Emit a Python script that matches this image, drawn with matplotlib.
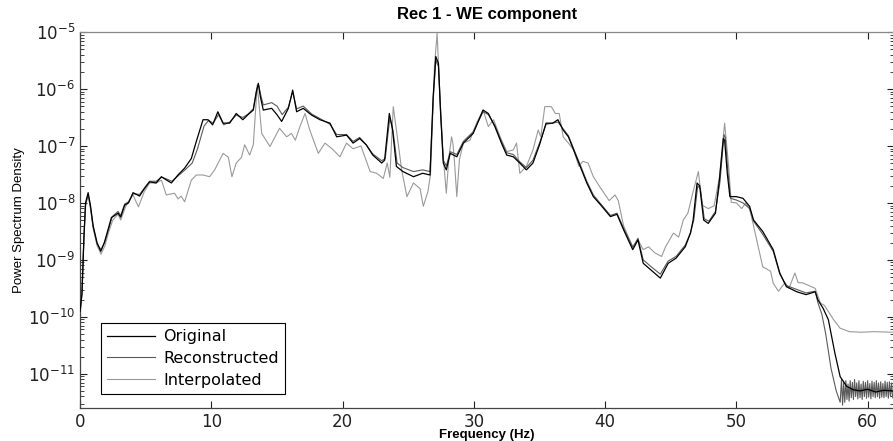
import numpy as np
import matplotlib
matplotlib.use('Agg')
import matplotlib.pyplot as plt
from matplotlib.ticker import FixedLocator, NullFormatter

# Original spectrum: frequency (Hz) and log10 of the PSD
orig_freq = [0.0, 0.15, 0.3, 0.42, 0.62, 0.8, 1.0, 1.3, 1.58, 1.85, 2.13, 2.39, 2.9, 3.1,
             3.4, 3.7, 4.04, 4.54, 4.9, 5.3, 5.8, 6.2, 6.6, 6.96, 7.46, 7.97, 8.48, 8.86,
             9.37, 9.75, 10.1, 10.5, 10.9, 11.4, 11.9, 12.4, 12.8, 13.2, 13.43, 13.58, 13.75,
             13.96, 14.6, 15.0, 15.36, 15.87, 16.2, 16.5, 17.0, 17.65, 18.28, 19.04, 19.55,
             20.3, 20.8, 21.3, 21.8, 22.3, 22.98, 23.2, 23.56, 23.8, 24.1, 24.6, 25.4, 26.1,
             26.66, 26.9, 27.1, 27.3, 27.47, 27.67, 27.9, 28.2, 28.7, 29.2, 29.95, 30.7, 31.1,
             31.6, 32.1, 32.5, 33.0, 33.5, 34.0, 34.5, 35.0, 35.5, 36.0, 36.4, 36.8, 37.2,
             37.6, 38.1, 38.6, 39.1, 39.6, 40.4, 40.9, 41.4, 42.1, 42.5, 42.9, 43.5, 44.2,
             44.8, 45.4, 46.1, 46.5, 46.7, 47.0, 47.2, 47.5, 47.85, 48.4, 48.7, 49.0, 49.1,
             49.3, 49.5, 50.0, 50.5, 51.0, 51.3, 52.0, 52.8, 53.3, 53.8, 54.6, 55.3, 56.0,
             56.2, 56.6, 57.0, 57.5, 57.9, 58.4, 58.9, 59.4, 60.0, 60.6, 61.2, 61.9]
orig_log = [-9.9, -9.6, -8.6, -8.0, -7.82, -8.05, -8.4, -8.7, -8.85, -8.7, -8.47, -8.26, -8.18, -8.25,
            -8.04, -8.0, -7.82, -7.88, -7.75, -7.63, -7.65, -7.54, -7.6, -7.65, -7.51, -7.39, -7.22, -6.92,
            -6.54, -6.54, -6.63, -6.40, -6.60, -6.60, -6.43, -6.54, -6.45, -6.37, -6.05, -5.90, -6.15,
            -6.37, -6.34, -6.45, -6.57, -6.34, -6.02, -6.40, -6.34, -6.46, -6.54, -6.60, -6.84,
            -6.81, -6.95, -6.87, -6.98, -7.16, -7.30, -7.25, -6.43, -6.7, -7.36, -7.45, -7.54, -7.48,
            -7.51, -6.13, -5.43, -5.55, -6.43, -7.30, -7.42, -7.13, -7.19, -6.95, -6.78, -6.37, -6.43,
            -6.66, -6.95, -7.16, -7.19, -7.30, -7.42, -7.30, -6.98, -6.60, -6.60, -6.54, -6.72, -6.84,
            -7.07, -7.36, -7.65, -7.89, -8.02, -8.24, -8.2, -8.47, -8.82, -8.65, -9.06, -9.18, -9.32,
            -9.06, -8.97, -8.77, -8.53, -8.3, -7.65, -7.7, -8.30, -8.36, -8.18, -7.60, -6.87, -6.9,
            -7.48, -7.89, -7.89, -7.92, -8.06, -8.30, -8.5, -8.82, -9.23, -9.47, -9.56, -9.61, -9.56,
            -9.70, -9.85, -10.05, -10.64, -11.05, -11.22, -11.28, -11.3, -11.27, -11.32, -11.29, -11.3]

# Reconstructed spectrum
rec_freq = [0.0, 0.15, 0.3, 0.42, 0.62, 0.8, 1.0, 1.3, 1.6, 1.9, 2.2, 2.45, 2.9, 3.1,
            3.4, 3.7, 4.04, 4.54, 4.9, 5.3, 5.8, 6.2, 6.6, 7.0, 7.5, 8.0, 8.55, 8.95,
            9.45, 9.8, 10.15, 10.55, 10.95, 11.4, 11.9, 12.4, 12.8, 13.2, 13.45, 13.6, 13.78,
            13.96, 14.6, 15.0, 15.4, 15.87, 16.2, 16.5, 17.0, 17.65, 18.28, 19.04, 19.55,
            20.3, 20.8, 21.3, 21.8, 22.3, 22.98, 23.25, 23.6, 23.85, 24.15, 24.6, 25.4, 26.1,
            26.66, 26.9, 27.1, 27.3, 27.47, 27.67, 27.9, 28.2, 28.7, 29.2, 29.95, 30.7, 31.1,
            31.6, 32.1, 32.5, 33.0, 33.5, 34.0, 34.5, 35.0, 35.5, 36.0, 36.4, 36.8, 37.2,
            37.6, 38.1, 38.6, 39.1, 39.6, 40.4, 40.9, 41.4, 42.1, 42.5, 42.9, 43.5, 44.2,
            44.8, 45.4, 46.1, 46.5, 46.75, 47.05, 47.25, 47.55, 47.9, 48.4, 48.75, 49.05, 49.15,
            49.35, 49.55, 50.0, 50.5, 51.0, 51.3, 52.0, 52.8, 53.3, 53.8, 54.6, 55.3, 56.0,
            56.2, 56.5, 56.8, 57.2, 57.6, 57.9]
rec_log = [-9.95, -9.6, -8.6, -8.05, -7.85, -8.08, -8.42, -8.72, -8.82, -8.68, -8.45, -8.24, -8.15, -8.22,
           -8.02, -7.98, -7.84, -7.85, -7.74, -7.62, -7.62, -7.55, -7.58, -7.62, -7.52, -7.42, -7.3, -7.05,
           -6.65, -6.55, -6.6, -6.45, -6.63, -6.58, -6.46, -6.5, -6.44, -6.35, -6.02, -5.92, -6.12,
           -6.28, -6.24, -6.3, -6.45, -6.32, -6.05, -6.35, -6.3, -6.44, -6.52, -6.62, -6.8,
           -6.8, -6.92, -6.85, -6.98, -7.14, -7.26, -7.22, -6.5, -6.75, -7.3, -7.38, -7.45, -7.42,
           -7.45, -6.2, -5.5, -5.6, -6.45, -7.25, -7.35, -7.1, -7.15, -6.92, -6.75, -6.4, -6.45,
           -6.64, -6.92, -7.12, -7.15, -7.28, -7.38, -7.25, -6.95, -6.62, -6.6, -6.58, -6.7, -6.82,
           -7.05, -7.33, -7.62, -7.86, -8.0, -8.22, -8.18, -8.44, -8.78, -8.62, -9.0, -9.12, -9.25,
           -9.02, -8.94, -8.74, -8.52, -8.3, -7.7, -7.75, -8.28, -8.32, -8.15, -7.62, -6.8, -6.85,
           -7.45, -7.92, -7.95, -8.0, -8.1, -8.32, -8.55, -8.85, -9.25, -9.45, -9.52, -9.58, -9.55,
           -9.75, -9.95, -10.3, -10.9, -11.3, -11.5]

# Reconstructed high-frequency tail (58 to 62 Hz), oscillating
rec_tail_log = [-11.1, -11.55, -11.15, -11.5, -11.12, -11.45, -11.18, -11.48, -11.12, -11.42,
                -11.15, -11.45, -11.1, -11.4, -11.16, -11.44, -11.12, -11.42, -11.18, -11.45,
                -11.13, -11.4, -11.15, -11.43, -11.12, -11.41, -11.17, -11.44, -11.13, -11.4,
                -11.15, -11.42, -11.12, -11.4, -11.16, -11.43, -11.14, -11.41, -11.17, -11.42,
                -11.13, -11.4, -11.15, -11.43, -11.14, -11.4, -11.16, -11.42]

# Interpolated spectrum
interp_freq = [0.0, 0.15, 0.3, 0.45, 0.62, 0.8, 1.0, 1.3, 1.6, 1.9, 2.2, 2.5, 2.9, 3.1, 3.5,
               4.04, 4.45, 4.9, 5.3, 5.8, 6.2, 6.57, 7.2, 7.47, 7.7, 7.97, 8.48, 8.86, 9.37,
               9.87, 10.26, 10.9, 11.3, 11.57, 11.9, 12.3, 12.54, 12.92, 13.2, 13.5, 13.84,
               14.47, 15.2, 15.74, 16.1, 16.4, 16.75, 17.14, 17.5, 18.15, 18.66, 19.2, 19.8,
               20.3, 20.8, 21.4, 22.1, 22.6, 23.1, 23.4, 23.6, 23.86, 24.1, 24.5, 24.9, 25.4,
               25.9, 26.15, 26.5, 26.7, 27.0, 27.2, 27.43, 27.67, 27.9, 28.1, 28.3, 28.4, 28.5,
               28.7, 28.9, 29.2, 29.7, 30.2, 30.7, 31.1, 31.5, 32.0, 32.5, 33.0, 33.25, 33.5,
               34.0, 34.5, 34.9, 35.1, 35.4, 35.9, 36.2, 36.5, 36.8, 37.2, 37.6, 38.0, 38.3,
               38.7, 39.1, 39.6, 40.3, 40.75, 41.0, 41.4, 42.1, 42.5, 42.9, 43.3, 43.8, 44.3,
               44.6, 45.2, 45.6, 45.95, 46.3, 46.7, 47.1, 47.4, 47.85, 48.3, 48.7, 49.1, 49.4,
               49.6, 50.0, 50.4, 50.7, 51.0, 51.3, 52.0, 52.6, 52.8, 53.2, 53.7, 54.0, 54.45,
               54.7, 55.0, 55.6, 56.0, 56.4, 56.7, 57.4, 57.9, 58.6, 59.5, 60.5, 61.9]
interp_log = [-10.0, -9.5, -8.6, -8.0, -7.86, -8.1, -8.45, -8.75, -8.9, -8.75, -8.5, -8.3, -8.2, -8.3, -8.05,
              -7.86, -8.07, -7.8, -7.65, -7.65, -7.6, -7.86, -7.83, -7.93, -7.88, -7.98, -7.60, -7.51, -7.51,
              -7.54, -7.42, -7.13, -7.2, -7.54, -7.30, -7.2, -6.98, -7.16, -6.98, -5.93, -6.78,
              -7.01, -6.69, -6.84, -6.78, -6.9, -6.66, -6.43, -6.72, -7.13, -6.95, -7.05, -7.19,
              -6.95, -7.05, -7.0, -7.45, -7.48, -7.57, -7.3, -7.55, -6.31, -6.72, -7.42, -7.89, -7.65,
              -7.75, -8.06, -7.8, -7.5, -5.6, -5.02, -6.2, -7.2, -7.83, -7.2, -6.84, -6.95, -7.2,
              -7.89, -7.24, -6.95, -6.9, -6.6, -6.37, -6.66, -6.54, -6.84, -7.1, -7.07, -6.95, -7.48,
              -7.36, -7.07, -6.72, -6.84, -6.31, -6.31, -6.43, -6.43, -6.84, -6.95, -7.07, -7.36, -7.27,
              -7.3, -7.54, -7.72, -7.96, -7.86, -7.96, -8.4, -8.77, -8.65, -8.82, -8.77, -8.88, -8.94,
              -8.77, -8.53, -8.6, -8.30, -8.18, -7.8, -7.45, -8.04, -8.1, -8.05, -7.55, -6.60, -7.35,
              -7.99, -8.0, -8.1, -8.0, -8.1, -8.4, -9.12, -9.2, -9.41, -9.55, -9.4, -9.5, -9.23,
              -9.4, -9.4, -9.46, -9.5, -9.76, -9.8, -10.05, -10.2, -10.26, -10.27, -10.26, -10.27]

labels = ['Original', 'Reconstructed', 'Interpolated']
colors = ['#000000', '#5a5a5a', '#9a9a9a']
x_ticks = [0, 10, 20, 30, 40, 50, 60]
y_ticks = [1e-11, 1e-10, 1e-9, 1e-8, 1e-7, 1e-6, 1e-5]

plt.rcParams['font.family'] = ['Liberation Sans', 'DejaVu Sans']

fig = plt.figure(figsize=(8.93, 4.41), dpi=100)
ax = fig.add_axes([80 / 893, 1 - 408 / 441, 814 / 893, 376 / 441])

rec_f = np.concatenate([rec_freq, np.linspace(58.0, 61.9, len(rec_tail_log))])
rec_v = np.concatenate([rec_log, rec_tail_log])

ax.plot(orig_freq, 10.0 ** np.array(orig_log), color=colors[0], lw=0.9, label=labels[0], zorder=3)
ax.plot(rec_f, 10.0 ** rec_v, color=colors[1], lw=0.8, label=labels[1], zorder=2)
ax.plot(interp_freq, 10.0 ** np.array(interp_log), color=colors[2], lw=0.8, label=labels[2], zorder=1)

ax.set_yscale('log')
ax.set_xlim(0, 62)
ax.set_ylim(10 ** -11.6, 1e-5)
ax.set_xticks(x_ticks)
ax.yaxis.set_major_locator(FixedLocator(y_ticks))
minor = [m * 10.0 ** e for e in range(-12, -5) for m in range(2, 10)]
ax.yaxis.set_minor_locator(FixedLocator([v for v in minor if 10 ** -11.6 < v < 1e-5]))
ax.yaxis.set_minor_formatter(NullFormatter())

ax.tick_params(which='both', direction='in', top=True, right=True, labelsize=12, colors='#222222')
ax.tick_params(which='major', length=5, width=0.8)
ax.tick_params(which='minor', length=3, width=0.6)
for lab in ax.get_xticklabels() + ax.get_yticklabels():
    lab.set_family('DejaVu Sans')
for side in ['top', 'right']:
    ax.spines[side].set_color('#888888')
for side in ['left', 'bottom']:
    ax.spines[side].set_color('#444444')
for s in ax.spines.values():
    s.set_linewidth(0.9)

ax.set_title('Rec 1 - WE component', fontsize=12, fontweight='bold', pad=9)
ax.set_xlabel('Frequency (Hz)', fontsize=9.5, fontweight='bold')
ax.xaxis.set_label_coords(0.5, -0.057)
ax.set_ylabel('Power Spectrum Density', fontsize=9.5,
              family=['Liberation Sans Narrow', 'Liberation Sans'])
ax.yaxis.set_label_coords(-0.068, 0.5)

leg = ax.legend(loc='lower left', bbox_to_anchor=(101 / 893, 1 - 394 / 441),
                bbox_transform=fig.transFigure, borderaxespad=0,
                prop={'family': 'DejaVu Sans', 'size': 11.5},
                fancybox=False, framealpha=1, edgecolor='black', handlelength=3.0,
                handletextpad=0.5, labelspacing=0.42, borderpad=0.4)
leg.get_frame().set_linewidth(0.8)

fig.savefig('out.png', dpi=100)
